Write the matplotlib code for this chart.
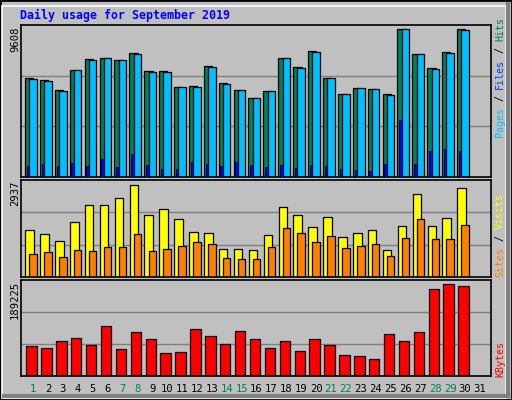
import matplotlib
matplotlib.use("Agg")
import matplotlib.pyplot as plt
from matplotlib.patches import Rectangle
import numpy as np

days = list(range(1, 32))
hits = [6406, 6277, 5628, 6926, 7641, 7705, 7575, 8050, 6862, 6862, 5823, 5888, 7186, 6083, 5628,
        5109, 5563, 7705, 7121, 8160, 6406, 5368, 5758, 5693, 5368, 9608, 7965, 7056, 8095, 9608]
files = [6340, 6210, 5563, 6926, 7575, 7705, 7575, 7965, 6800, 6800, 5823, 5823, 7120, 6020, 5628,
         5109, 5563, 7705, 7056, 8095, 6406, 5368, 5758, 5693, 5300, 9588, 7965, 6990, 8030, 9540]
pages = [714, 844, 714, 909, 714, 1168, 649, 1493, 779, 519, 519, 974, 844, 714, 974,
         779, 649, 779, 584, 779, 714, 519, 454, 389, 844, 3700, 844, 1688, 1817, 1688]
visits = [1479, 1351, 1128, 1734, 2277, 2277, 2500, 2937, 1958, 2149, 1830, 1415, 1383, 872, 872,
          841, 1319, 2213, 1958, 1575, 1894, 1256, 1383, 1479, 841, 1607, 2628, 1607, 1862, 2820]
sites = [713, 777, 617, 841, 809, 936, 936, 1351, 809, 872, 968, 1096, 1032, 585, 553,
         553, 936, 1543, 1383, 1096, 1287, 904, 968, 1032, 649, 1224, 1830, 1192, 1192, 1639]
kbytes = [60773, 56630, 71130, 77350, 62840, 102210, 54560, 89780, 75280, 46270, 48340, 95990, 81490,
          64920, 91850, 75280, 56630, 71130, 50410, 75280, 62840, 42130, 40050, 33840, 85630, 71130,
          89780, 178860, 189225, 185080]
weekend = [1, 7, 8, 14, 15, 21, 22, 28, 29]

W, H = 512, 400
fig = plt.figure(figsize=(W/100, H/100), dpi=100)
fig.patch.set_facecolor("#C0C0C0")
MONO = "DejaVu Sans Mono"

# frame
fig.add_artist(Rectangle((0, 0), 1, 1, transform=fig.transFigure, fill=False, ec="black", lw=2))
fig.add_artist(Rectangle((2/W, 2/H), (W-8)/W, (H-8)/H, transform=fig.transFigure, fill=False, ec="white", lw=1.2))
fig.add_artist(plt.Line2D([(W-4)/W, (W-4)/W], [4/H, (H-4)/H], transform=fig.transFigure, color="#808080", lw=3))
fig.add_artist(plt.Line2D([4/W, (W-4)/W], [4/H, 4/H], transform=fig.transFigure, color="#808080", lw=3))

x0, x1 = 20.7, 490.7
d = np.array(days[:30], dtype=float)
XL = (0.17, 31.72)

def mkax(ytop, ybot):
    ax = fig.add_axes([x0/W, (H-ybot)/H, (x1-x0)/W, (ybot-ytop)/H])
    ax.set_facecolor("#C0C0C0")
    ax.set_xlim(*XL)
    for s in ax.spines.values():
        s.set_color("black"); s.set_linewidth(1.2)
    ax.set_xticks([]); ax.set_yticks([])
    for f in (1/3, 2/3):
        ax.axhline(0, alpha=0)
        ax.plot([0, 1], [f, f], transform=ax.transAxes, color="#808080", lw=1, zorder=0)
    return ax

def bar(ax, lo, hi, vals, color):
    ax.bar(d + lo, vals, width=hi - lo, align="edge", color=color, edgecolor="black", lw=0.9, zorder=2)

ax1 = mkax(25, 177)
bar(ax1, -0.54, 0.02, hits, "#00805C")
bar(ax1, -0.25, 0.25, files, "#00C0FF")
ax1.bar(d - 0.42, pages, width=0.17, align="edge", color="#0000FF", edgecolor="black", lw=0.6, zorder=3)
ax1.set_ylim(0, 9608*152/148)

ax2 = mkax(180.3, 276.7)
bar(ax2, -0.52, 0.05, visits, "#FFFF00")
bar(ax2, -0.25, 0.25, sites, "#FF8000")
ax2.set_ylim(0, 2937*96.4/92)

ax3 = mkax(280.3, 375.7)
bar(ax3, -0.45, 0.25, kbytes, "#FF0000")
ax3.set_ylim(0, 189225*95.4/91.3)

fig.text(20/W, 1-15/H, "Daily usage for September 2019", color="#0000FF", family=MONO,
         fontsize=8.4, fontweight="bold", va="center", ha="left")

for lab, ytop in (("9608", 26), ("2937", 181), ("189225", 281)):
    fig.text(15/W, 1-ytop/H, lab, rotation=90, va="top", ha="center", family=MONO, fontsize=7.6)

def stacked(ybot_px, parts, fs=7.2):
    cw = 0.6*fs*100/72
    y = ybot_px
    for t, c in parts:
        fig.text(500/W, 1-y/H, t, rotation=90, va="bottom", ha="center", color=c, family=MONO, fontsize=fs)
        y -= len(t)*cw

stacked(137, [("Pages", "#00C0FF"), (" / ", "black"), ("Files", "#0040FF"), (" / ", "black"), ("Hits", "#00805C")])
stacked(277, [("Sites", "#FF8000"), (" / ", "black"), ("Visits", "#FFFF00")])
stacked(377, [("KBytes", "#FF0000")])

for dd in days:
    xp = x0 + (dd - XL[0])/(XL[1]-XL[0])*(x1-x0)
    fig.text(xp/W, 1-389/H, str(dd), ha="center", va="center", family=MONO, fontsize=7.6,
             color="#00805C" if dd in weekend else "black")

fig.savefig("out.png", dpi=100, facecolor=fig.get_facecolor())
